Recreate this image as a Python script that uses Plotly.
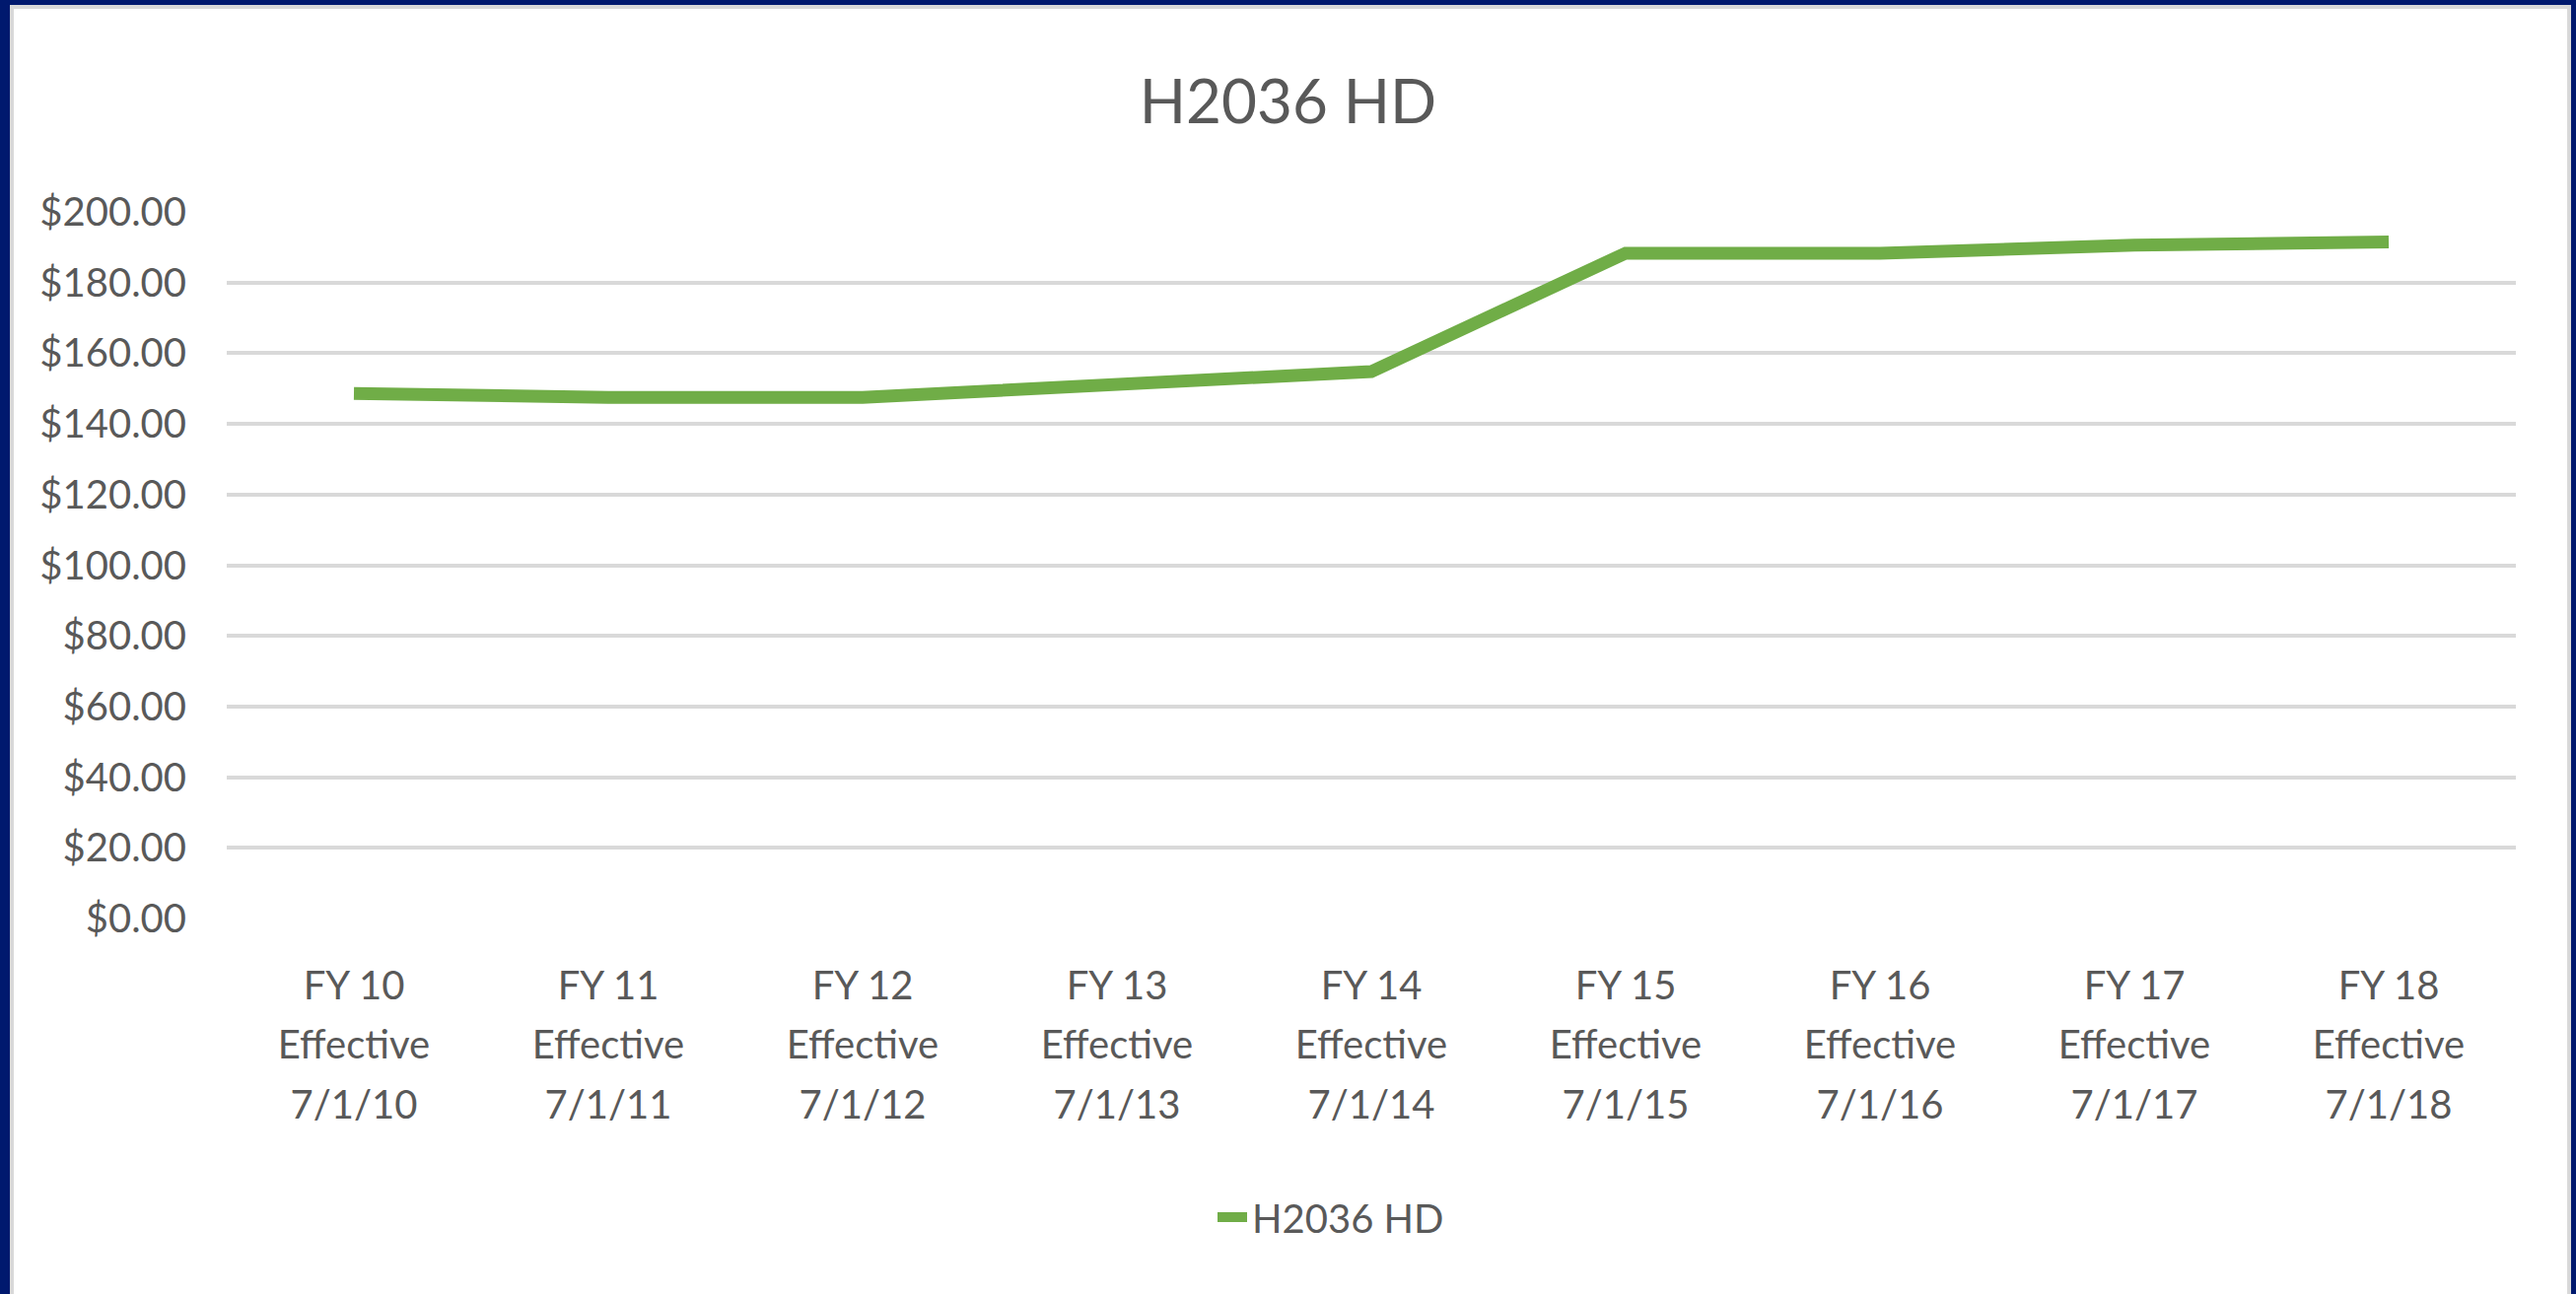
import plotly.graph_objects as go

# ---- data ----
fiscal_years = ["FY 10", "FY 11", "FY 12", "FY 13", "FY 14", "FY 15", "FY 16", "FY 17", "FY 18"]
effective_label = ["Effective"] * 9
effective_dates = ["7/1/10", "7/1/11", "7/1/12", "7/1/13", "7/1/14", "7/1/15", "7/1/16", "7/1/17", "7/1/18"]
rates = [148.6, 147.5, 147.5, 151.2, 154.8, 188.3, 188.3, 190.6, 191.5]
series_name = "H2036 HD"
y_ticks = [0, 20, 40, 60, 80, 100, 120, 140, 160, 180, 200]

W, H = 2613, 1313
ML, MR, MT, MB = 230, 61, 215, 381
PW, PH = W - ML - MR, H - MT - MB

FONT = "Lato"
TXT = "#595959"
GREEN = "#70AD47"
GRID = "#D9D9D9"
NAVY = "#00196E"

n = len(fiscal_years)
xs = list(range(n))

fig = go.Figure()
fig.add_trace(go.Scatter(
    x=xs, y=rates, mode="lines", name=series_name,
    line=dict(color=GREEN, width=13),
))
# empty helper traces so the extra label rows (x2, x3) are drawn
for ax in ("x2", "x3"):
    fig.add_trace(go.Scatter(x=xs, y=[None] * n, xaxis=ax, yaxis="y", mode="lines",
                             showlegend=False, hoverinfo="skip"))


def px_x(px):
    return (px - ML) / PW


def px_y(py):
    return (H - MB - py) / PH


shapes = []
for (x0, x1, y0, y1, c) in [
    (0, 10, 0, H, NAVY), (10, 14, 9, H, GRID),
    (0, W, 0, 5, NAVY), (10, W - 5, 5, 9, GRID),
    (W - 5, W, 0, H, NAVY), (W - 9, W - 5, 9, H, GRID),
]:
    shapes.append(dict(type="rect", xref="paper", yref="paper",
                       x0=px_x(x0), x1=px_x(x1), y0=px_y(y1), y1=px_y(y0),
                       fillcolor=c, line=dict(width=0), layer="above"))


def cat_axis(texts, standoff, **extra):
    d = dict(
        tickmode="array", tickvals=xs, ticktext=texts,
        range=[-0.5, n - 0.5], showgrid=False, zeroline=False,
        showline=False, ticks="", ticklabelstandoff=standoff,
        tickfont=dict(family=FONT, size=40, color=TXT), fixedrange=True,
    )
    d.update(extra)
    return d


fig.update_layout(
    width=W, height=H,
    margin=dict(l=ML, r=MR, t=MT, b=MB, autoexpand=False),
    paper_bgcolor="white", plot_bgcolor="rgba(0,0,0,0)",
    font=dict(family=FONT, color=TXT, size=40),
    title=dict(text="H2036 HD", x=0.5, xref="container", xanchor="center",
               y=1 - 103 / H, yanchor="middle", yref="container",
               font=dict(family=FONT, size=62, color=TXT)),
    xaxis=cat_axis(fiscal_years, 41),
    xaxis2=cat_axis(effective_label, 101, overlaying="x", anchor="y", side="bottom"),
    xaxis3=cat_axis(effective_dates, 162, overlaying="x", anchor="y", side="bottom"),
    yaxis=dict(
        range=[0, 200], tickvals=y_ticks, ticktext=[f"${v:.2f}" for v in y_ticks],
        showgrid=True, gridcolor=GRID, gridwidth=4, zeroline=False, showline=False,
        ticks="", ticklabelstandoff=40,
        tickfont=dict(family=FONT, size=40, color=TXT), fixedrange=True,
    ),
    showlegend=True,
    legend=dict(orientation="h", x=px_x(1350), xanchor="center",
                y=px_y(1235), yanchor="middle",
                font=dict(family=FONT, size=40, color=TXT),
                bgcolor="rgba(0,0,0,0)"),
    shapes=shapes,
)

fig.write_html(
    "out.html",
    config={"displayModeBar": False},
    post_script="document.body.style.margin='0';document.body.style.overflow='hidden';",
)
